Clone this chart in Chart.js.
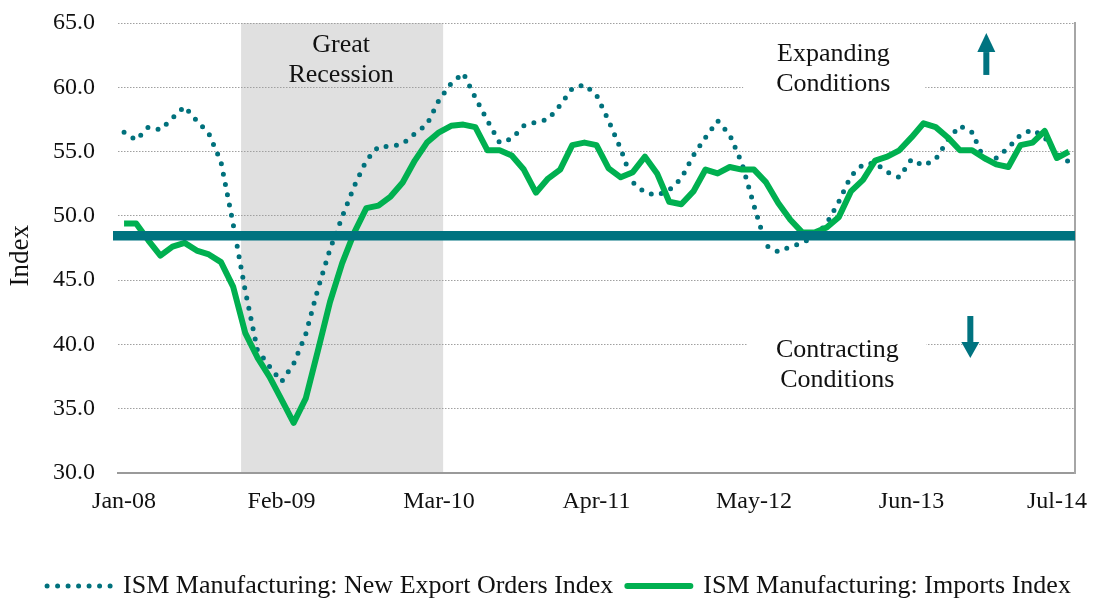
<!DOCTYPE html>
<html>
<head>
<meta charset="utf-8">
<script src="https://cdn.jsdelivr.net/npm/chart.js@4.4.1/dist/chart.umd.min.js"></script>
<style>
  html, body { margin: 0; padding: 0; background: #ffffff; }
  canvas { display: block; }
</style>
</head>
<body>
<canvas id="c" width="1093" height="599"></canvas>
<script>
// ---------------- data ----------------
const months = [
  'Jan-08','Feb-08','Mar-08','Apr-08','May-08','Jun-08','Jul-08','Aug-08','Sep-08','Oct-08','Nov-08','Dec-08',
  'Jan-09','Feb-09','Mar-09','Apr-09','May-09','Jun-09','Jul-09','Aug-09','Sep-09','Oct-09','Nov-09','Dec-09',
  'Jan-10','Feb-10','Mar-10','Apr-10','May-10','Jun-10','Jul-10','Aug-10','Sep-10','Oct-10','Nov-10','Dec-10',
  'Jan-11','Feb-11','Mar-11','Apr-11','May-11','Jun-11','Jul-11','Aug-11','Sep-11','Oct-11','Nov-11','Dec-11',
  'Jan-12','Feb-12','Mar-12','Apr-12','May-12','Jun-12','Jul-12','Aug-12','Sep-12','Oct-12','Nov-12','Dec-12',
  'Jan-13','Feb-13','Mar-13','Apr-13','May-13','Jun-13','Jul-13','Aug-13','Sep-13','Oct-13','Nov-13','Dec-13',
  'Jan-14','Feb-14','Mar-14','Apr-14','May-14','Jun-14','Jul-14'
];
const tickLabels = ['Jan-08','Feb-09','Mar-10','Apr-11','May-12','Jun-13','Jul-14'];

const exportOrders = [
  56.5, 55.9, 56.9, 56.7, 57.6, 58.5, 57.4, 56.4, 54.2, 49.4, 44.2, 39.6,
  38.3, 37.1, 38.5, 40.8, 44.3, 47.4, 49.9, 52.3, 54.3, 55.4, 55.4, 55.6,
  56.4, 57.1, 59.0, 60.3, 61.1, 59.2, 57.4, 55.7, 56.0, 57.0, 57.3, 57.5,
  58.6, 59.9, 60.2, 59.4, 57.4, 55.2, 52.6, 51.8, 51.6, 52.0, 52.9, 54.7,
  56.1, 57.4, 56.3, 54.1, 50.8, 47.7, 47.2, 47.6, 47.9, 48.4, 49.4, 51.1,
  53.1, 54.0, 54.1, 53.4, 53.0, 54.4, 53.9, 54.4, 55.9, 57.0, 56.5, 54.4,
  54.5, 55.3, 56.3, 56.7, 56.1, 54.8, 54.2
];
const imports = [
  49.4, 49.4, 48.1, 46.9, 47.6, 47.9, 47.3, 47.0, 46.4, 44.5, 40.9, 39.0,
  37.5, 35.7, 33.9, 35.8, 39.5, 43.3, 46.3, 48.7, 50.6, 50.8, 51.5, 52.6,
  54.3, 55.7, 56.5, 57.0, 57.1, 56.9, 55.1, 55.1, 54.7, 53.6, 51.8, 52.9,
  53.6, 55.5, 55.7, 55.5, 53.7, 53.0, 53.4, 54.6, 53.3, 51.1, 50.9, 51.9,
  53.6, 53.3, 53.8, 53.6, 53.6, 52.6, 51.0, 49.7, 48.7, 48.7, 49.1, 49.9,
  51.9, 52.8, 54.3, 54.6, 55.1, 56.1, 57.2, 56.9, 56.1, 55.1, 55.1, 54.5,
  54.0, 53.8, 55.5, 55.7, 56.6, 54.5, 55.0
];
const seriesNames = ['ISM Manufacturing: New Export Orders Index', 'ISM Manufacturing: Imports Index'];
const contractionLevel = 48.45;
const yMin = 30, yMax = 65, yStep = 5;

// ---------------- annotation layout (in axis units) ----------------
const recessionSpan = [9.66, 26.34];
const notes = [
  { text: 'Great',       x: 17.92, y: 62.74 },
  { text: 'Recession',   x: 17.92, y: 60.41 },
  { text: 'Expanding',   x: 58.55, y: 62.01 },
  { text: 'Conditions',  x: 58.55, y: 59.71 },
  { text: 'Contracting', x: 58.88, y: 39.02 },
  { text: 'Conditions',  x: 58.88, y: 36.69 }
];
const whiteBoxes = [
  { x0: 51.11, x1: 66.14, y0: 64.14, y1: 59.01 },
  { x0: 51.45, x1: 66.23, y0: 42.05, y1: 36.14 }
];
const arrows = [
  { x: 71.18, tail: 60.96, headBase: 62.74, tip: 64.22 },
  { x: 69.86, tail: 42.21, headBase: 40.19, tip: 38.94 }
];

const TEAL = '#00717C';
const BAND = '#007380';
const GREEN = '#00B050';
const TEXT = '#111111';
const FAMILY = "'Liberation Serif', 'Times New Roman', serif";

const decor = {
  id: 'decor',
  beforeDraw(chart) {
    const { ctx, chartArea: a, scales: { x } } = chart;
    const x0 = x.getPixelForValue(recessionSpan[0]);
    const x1 = x.getPixelForValue(recessionSpan[1]);
    ctx.save();
    ctx.fillStyle = '#E0E0E0';
    ctx.fillRect(x0, a.top, x1 - x0, a.bottom - a.top - 1);
    ctx.restore();
  },
  beforeDatasetsDraw(chart) {
    const { ctx, scales: { x, y } } = chart;
    ctx.save();
    ctx.fillStyle = '#ffffff';
    whiteBoxes.forEach(b => {
      const px0 = x.getPixelForValue(b.x0), px1 = x.getPixelForValue(b.x1);
      const py0 = y.getPixelForValue(b.y0), py1 = y.getPixelForValue(b.y1);
      ctx.fillRect(px0, py0, px1 - px0, py1 - py0);
    });
    ctx.restore();
  },
  afterDatasetsDraw(chart) {
    const { ctx, chartArea: a, scales: { x, y } } = chart;
    ctx.save();
    const by = y.getPixelForValue(contractionLevel);
    ctx.strokeStyle = BAND;
    ctx.lineWidth = 9.5;
    ctx.beginPath();
    ctx.moveTo(a.left - 5, by);
    ctx.lineTo(a.right, by);
    ctx.stroke();
    ctx.fillStyle = BAND;
    arrows.forEach(ar => {
      const px = x.getPixelForValue(ar.x);
      const pt = y.getPixelForValue(ar.tail);
      const pb = y.getPixelForValue(ar.headBase);
      const pp = y.getPixelForValue(ar.tip);
      ctx.fillRect(px - 3, Math.min(pt, pb), 6, Math.abs(pb - pt));
      ctx.beginPath();
      ctx.moveTo(px - 9, pb);
      ctx.lineTo(px + 9, pb);
      ctx.lineTo(px, pp);
      ctx.closePath();
      ctx.fill();
    });
    ctx.fillStyle = TEXT;
    ctx.font = '26px ' + FAMILY;
    ctx.textAlign = 'center';
    ctx.textBaseline = 'alphabetic';
    notes.forEach(n => {
      ctx.fillText(n.text, x.getPixelForValue(n.x), y.getPixelForValue(n.y));
    });
    ctx.restore();
  },
  afterDraw(chart) {
    const { ctx, scales: { y } } = chart;
    ctx.save();
    ctx.fillStyle = TEXT;
    ctx.font = '27px ' + FAMILY;
    ctx.textAlign = 'center';
    ctx.textBaseline = 'alphabetic';
    ctx.translate(28, y.getPixelForValue(46.9));
    ctx.rotate(-Math.PI / 2);
    ctx.fillText('Index', 0, 0);
    ctx.restore();
  }
};

new Chart(document.getElementById('c'), {
  type: 'line',
  data: {
    labels: months,
    datasets: [
      {
        label: seriesNames[0],
        data: exportOrders,
        borderColor: TEAL,
        backgroundColor: 'rgba(0,0,0,0)',
        borderWidth: 5,
        borderDash: [0, 10.5],
        borderCapStyle: 'round',
        borderJoinStyle: 'round',
        pointRadius: 0,
        tension: 0,
        fill: false,
        order: 2
      },
      {
        label: seriesNames[1],
        data: imports,
        borderColor: GREEN,
        backgroundColor: 'rgba(0,0,0,0)',
        borderWidth: 6,
        borderCapStyle: 'butt',
        borderJoinStyle: 'round',
        pointRadius: 0,
        tension: 0,
        fill: false,
        order: 1
      }
    ]
  },
  options: {
    responsive: false,
    animation: false,
    devicePixelRatio: 1,
    layout: { padding: { top: 23, left: 25, right: 0, bottom: -10 } },
    scales: {
      x: {
        type: 'category',
        offset: true,
        grid: { display: false, drawTicks: false },
        border: { display: true, color: '#9A9A9A', width: 2 },
        ticks: {
          autoSkip: false,
          maxRotation: 0,
          minRotation: 0,
          padding: 14,
          color: TEXT,
          font: { family: FAMILY, size: 24 },
          callback: function (value, index) {
            const lbl = this.getLabelForValue(value);
            if (!tickLabels.includes(lbl)) return '';
            return index === months.length - 1 ? lbl + '\u2002\u2002' : lbl;
          }
        },
        afterFit: s => { s.height = 86; s.paddingLeft = 0; s.paddingRight = 0; }
      },
      y: {
        type: 'linear',
        position: 'left',
        min: yMin,
        max: yMax,
        ticks: {
          stepSize: yStep,
          padding: 23,
          color: TEXT,
          font: { family: FAMILY, size: 24 },
          callback: v => Number(v).toFixed(1)
        },
        grid: { color: '#A0A0A0', lineWidth: 1, drawTicks: false },
        border: { display: false, dash: [1.5, 1.5] },
        afterFit: s => { s.width = 93; s.paddingTop = 0; s.paddingBottom = 0; }
      },
      y2: {
        type: 'linear',
        position: 'right',
        min: yMin,
        max: yMax,
        ticks: { display: false },
        grid: { display: false, drawTicks: false },
        border: { display: true, color: '#A6A6A6', width: 2 },
        afterFit: s => { s.width = 18; s.paddingTop = 0; s.paddingBottom = 0; }
      }
    },
    plugins: {
      legend: {
        display: true,
        position: 'bottom',
        labels: {
          boxWidth: 63,
          boxHeight: 0,
          padding: 14,
          color: TEXT,
          font: { family: FAMILY, size: 26 },
          sort: (a, b) => a.datasetIndex - b.datasetIndex
        }
      },
      tooltip: { enabled: false },
      title: { display: false }
    }
  },
  plugins: [decor]
});
</script>
</body>
</html>
